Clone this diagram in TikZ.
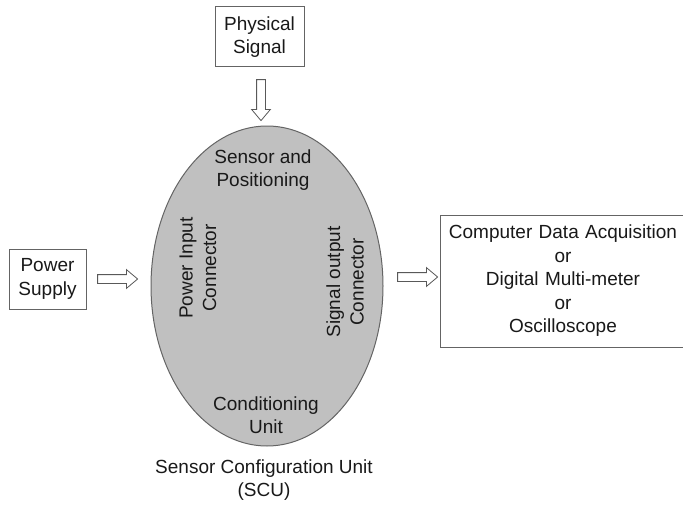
\documentclass[tikz,border=0pt]{standalone}
\usepackage{fontspec}
\setmainfont{Liberation Sans}
\usetikzlibrary{shapes.geometric,shapes.arrows}
\definecolor{boxline}{RGB}{100,100,100}
\definecolor{ellfill}{RGB}{192,192,192}
\definecolor{txt}{RGB}{25,25,25}
\tikzset{
  box/.style={draw=boxline, line width=1pt, fill=white, align=center, inner sep=0pt, text=txt},
  lbl/.style={align=center, inner sep=0pt, text=txt},
  hollow/.style={single arrow, draw=black!65, fill=white, line width=0.8pt, inner sep=4pt,
     single arrow head extend=5pt, single arrow tip angle=80, minimum height=40pt},
}
\begin{document}
\begin{tikzpicture}[x=1pt,y=-1pt, font=\fontsize{19}{23.5}\selectfont]
\useasboundingbox (0,0) rectangle (683,511);
\node[box, minimum width=89pt, minimum height=60pt] (phys) at (259.5,37) {Physical\\Signal};
\node[box, minimum width=77pt, minimum height=60pt] (pwr) at (47.5,279) {Power\\Supply};
\node[box, minimum width=246pt, minimum height=132pt, text width=242pt] (out) at (563,281)
  {Computer Data Acquisition\\or\\Digital Multi-meter\\or\\Oscilloscope};
\node[ellipse, draw=boxline, line width=1pt, fill=ellfill, minimum width=232pt, minimum height=320pt, inner sep=0pt] (scu) at (267,286) {};
\node[hollow, shape border rotate=270, minimum height=41pt] (a1) at (261,97.5) {};
\node[hollow] (a2) at (115,279) {};
\node[hollow] (a3) at (415,277) {};
\node[lbl] (sp) at (263,170) {Sensor and\\Positioning};
\node[lbl] (cu) at (266,415) {Conditioning\\Unit};
\node[lbl, rotate=90] (pic) at (198,268) {Power Input\\Connector};
\node[lbl, rotate=90] (soc) at (345,282) {Signal output\\Connector};
\node[lbl] (name) at (264,480) {Sensor Configuration Unit\\(SCU)};
\end{tikzpicture}
\end{document}
